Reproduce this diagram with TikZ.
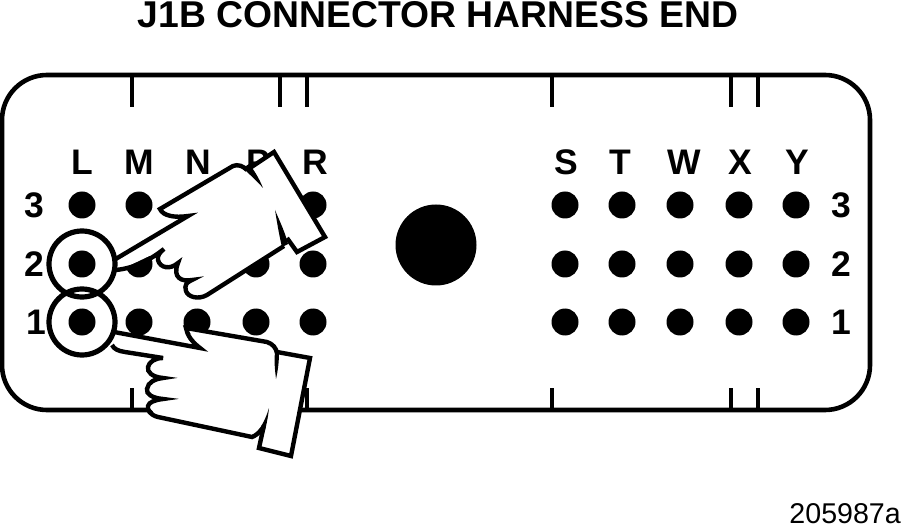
\documentclass[tikz,border=0pt]{standalone}
\usepackage{fontspec}
\setmainfont{Liberation Sans}
\tikzset{
 pin/.style={circle,fill=black,inner sep=0pt,minimum size=27pt},
 lab/.style={font=\fontsize{35.5}{36}\selectfont\bfseries,inner sep=0pt,anchor=center},
 ttl/.style={font=\fontsize{37.3}{38}\selectfont\bfseries,inner sep=0pt},
 wall/.style={line width=4.6pt,draw=black},
 tick/.style={line width=3.8pt,draw=black},
 ring/.style={circle,draw=black,line width=5.2pt,inner sep=0pt,minimum size=66pt},
 hand/.style={line width=4.4pt,draw=black,line join=miter,miter limit=8},
 mask/.style={fill=white,draw=none}
}
\begin{document}
\begin{tikzpicture}[x=1pt,y=-1pt]
\useasboundingbox (0,0) rectangle (904,526);
\node[ttl] (title) at (438,15) {J1B CONNECTOR HARNESS END};
\node[font=\fontsize{28.6}{29}\selectfont,inner sep=0pt,anchor=east] (code) at (901,514) {205987a};
\draw[wall] (2,120) arc[start angle=180,end angle=270,radius=45] -- (825,75) arc[start angle=-90,end angle=0,radius=45] -- (870,365) arc[start angle=0,end angle=90,radius=45] -- (47,410) arc[start angle=90,end angle=180,radius=45] -- cycle;
\foreach \x in {132,280,307,552,731,758}{
 \draw[tick] (\x,75) -- (\x,107);
 \draw[tick] (\x,410) -- (\x,388);
}
\foreach \t/\x in {L/82,M/139,N/198,P/258,R/315,S/566,T/620,W/684,X/740,Y/797}
 \node[lab] (c\t) at (\x,162) {\t};
\foreach \t/\x/\y in {3/34/205,2/34/264,1/36/322,3/841/205,2/841/264,1/841/322}
 \node[lab] (r\t\x) at (\x,\y) {\t};
\foreach \x in {82,139,197,256,313,565,622,680,739,796}
 \foreach \y in {205,264,322}
  \node[pin] (p\x-\y) at (\x,\y) {};
\node[circle,fill=black,inner sep=0pt,minimum size=81pt] (hole) at (436,245) {};
% upper hand: white body
\fill[mask] (117,258) -- (188,216) -- (160,209) -- (233,166) -- (250,168) -- (274,152) -- (325,237) -- (297,252) -- (285,245)
 -- (207,295) -- (186,291) -- (192,280) -- (175,264) -- (158,260) -- (164,249) -- (120,270) -- cycle;
% upper hand: outline
\draw[hand] (114,260) -- (188,216) .. controls (175,218) and (163,216) .. (160,209)
 -- (233,166) .. controls (238,164) and (243,166) .. (247,170);
\fill[black] (243,168) -- (249,164) .. controls (254,170) and (259,178) .. (263,188) .. controls (257,181) and (250,175) .. cycle;
\draw[hand] (250,168) -- (274,152) -- (325,237) -- (297,252) -- (287,238);
\fill[black] (275,210) .. controls (280,222) and (285,232) .. (288,244) -- (282,247) .. controls (279,235) and (277,222) .. cycle;
\draw[hand] (284,246) -- (207,295) .. controls (198,300) and (188,297) .. (186,291) .. controls (184,285) and (187,282) .. (192,280)
 .. controls (182,282) and (172,278) .. (178,263)
 .. controls (170,270) and (160,268) .. (158,260) .. controls (157,256) and (160,252) .. (164,249)
 .. controls (150,260) and (135,268) .. (116,270);
% lower hand: white body
\fill[mask] (112,347) -- (117,332) -- (200,348) -- (187,328) -- (267,342) -- (277,352) -- (310,358) -- (291,456) -- (259,448) -- (263,427) -- (252,437)
 -- (158,417) -- (148,406) -- (163,399) -- (147,389) -- (163,378) -- (148,367) -- (163,358) -- (125,352) -- cycle;
% lower hand: outline
\draw[hand] (114,332) -- (200,348) .. controls (192,342) and (187,335) .. (186,328)
 -- (267,342) .. controls (273,344) and (276,348) .. (277,353);
\fill[black] (275,352) -- (279,352) .. controls (279,362) and (278,370) .. (276,379) .. controls (275,370) and (274,362) .. cycle;
\draw[hand] (277,352) -- (310,358) -- (291,456) -- (259,448) -- (264,425);
\fill[black] (269,408) .. controls (268,418) and (266,428) .. (263,436) -- (257,432) .. controls (262,426) and (266,418) .. cycle;
\draw[hand] (262,429) .. controls (259,433) and (255,436) .. (252,437)
 -- (158,417) .. controls (150,415) and (147,410) .. (148,406) .. controls (149,402) and (155,400) .. (163,399)
 .. controls (152,398) and (146,394) .. (147,389) .. controls (148,382) and (155,379) .. (163,378)
 .. controls (152,377) and (147,372) .. (148,367) .. controls (149,362) and (155,358) .. (163,358)
 -- (125,352) .. controls (118,351) and (114,349) .. (112,345);
% rings
\node[ring] (ring2) at (82,264) {};
\node[ring] (ring1) at (82,322) {};
\end{tikzpicture}
\end{document}
